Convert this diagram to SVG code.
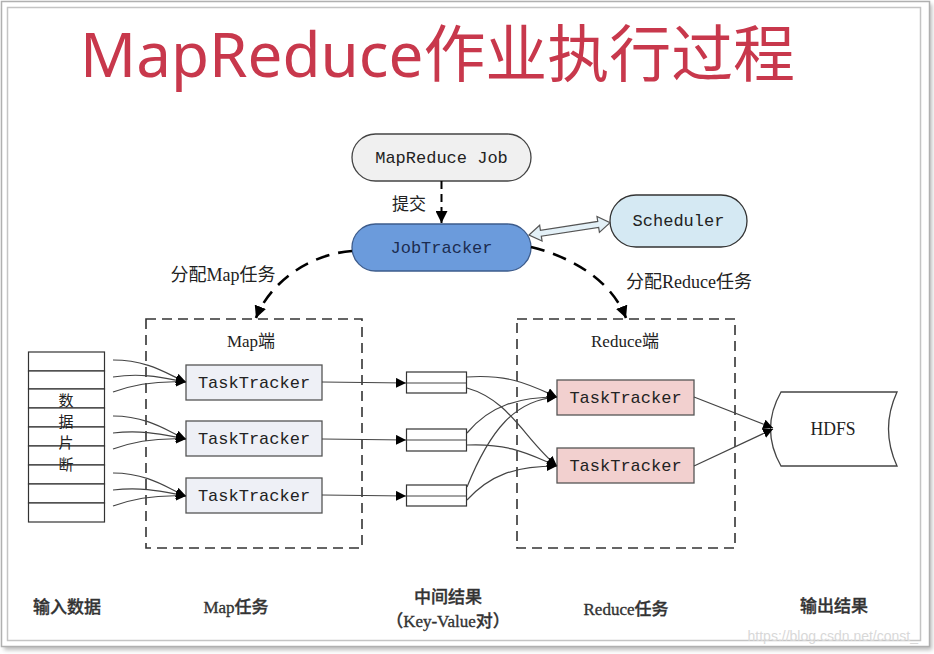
<svg xmlns="http://www.w3.org/2000/svg" width="934" height="654" viewBox="0 0 934 654">
<defs>
<marker id="ah" viewBox="0 0 10 10" refX="10" refY="5" markerWidth="10" markerHeight="10" markerUnits="userSpaceOnUse" orient="auto">
<path d="M0,0 L10,5 L0,10 Z" fill="#000"/>
</marker>
<marker id="ahb" viewBox="0 0 10 10" refX="10" refY="5" markerWidth="12" markerHeight="12" markerUnits="userSpaceOnUse" orient="auto">
<path d="M0,0 L10,5 L0,10 Z" fill="#000"/>
</marker>
<filter id="sh" x="-5%" y="-5%" width="110%" height="110%">
<feGaussianBlur stdDeviation="2"/>
</filter>
</defs>
<style>
.mono{font-family:"Liberation Mono","Noto Sans CJK SC",monospace;font-size:17px;fill:#222;text-anchor:middle}
.ser{font-family:"Liberation Serif","Noto Sans CJK SC",serif;font-size:17px;fill:#222;text-anchor:middle}
.lab{font-family:"Liberation Serif","Noto Sans CJK SC",serif;font-size:17px;fill:#333;text-anchor:middle;font-weight:500;stroke:#333;stroke-width:0.35}
.tt{fill:#eef0f6;stroke:#555;stroke-width:1.3}
.rt{fill:#f2d0cf;stroke:#555;stroke-width:1.3}
.ln{fill:none;stroke:#444;stroke-width:1.2}
.dbox{fill:none;stroke:#333;stroke-width:1.6;stroke-dasharray:10 6}
.dash{fill:none;stroke:#000;stroke-width:2.6;stroke-dasharray:14 9}
.cell{fill:#fff;stroke:#333;stroke-width:1.2}
</style>
<rect width="934" height="654" fill="#fff"/>
<rect x="4" y="4" width="928" height="646" fill="#bbb" filter="url(#sh)"/>
<rect x="1.5" y="1.5" width="928" height="645" fill="#fff" stroke="#b0b0b0" stroke-width="1.5"/>
<rect x="7.5" y="7.5" width="913" height="633" fill="#fff" stroke="#c4c4c4" stroke-width="1.5"/>

<text x="80" y="77" font-family="'Noto Sans','Noto Sans CJK SC',sans-serif" font-size="62" fill="#c8384c" textLength="715" lengthAdjust="spacingAndGlyphs">MapReduce作业执行过程</text>

<g id="job">
<rect x="352" y="134" width="179" height="47" rx="23.5" fill="#f0f0f0" stroke="#444" stroke-width="1.3"/>
<text class="mono" x="441.5" y="163">MapReduce Job</text>
</g>
<g id="jobtracker">
<rect x="352" y="224" width="179" height="47" rx="23.5" fill="#6b9bdc" stroke="#3d5c8c" stroke-width="1.3"/>
<text class="mono" x="441.5" y="253" style="fill:#1c2c50">JobTracker</text>
</g>
<g id="scheduler">
<rect x="610" y="195" width="137" height="52" rx="26" fill="#d5e9f3" stroke="#333" stroke-width="1.3"/>
<text class="mono" x="678.5" y="226">Scheduler</text>
</g>

<g id="input">
<rect class="cell" x="28.5" y="352" width="76" height="19"/>
<rect class="cell" x="28.5" y="371" width="76" height="18"/>
<rect class="cell" x="28.5" y="389" width="76" height="19"/>
<rect class="cell" x="28.5" y="408" width="76" height="19"/>
<rect class="cell" x="28.5" y="427" width="76" height="19"/>
<rect class="cell" x="28.5" y="446" width="76" height="19"/>
<rect class="cell" x="28.5" y="465" width="76" height="19"/>
<rect class="cell" x="28.5" y="484" width="76" height="19"/>
<rect class="cell" x="28.5" y="503" width="76" height="19"/>
<text class="ser" x="66" y="406" style="font-size:15px">数</text>
<text class="ser" x="66" y="427" style="font-size:15px">据</text>
<text class="ser" x="66" y="448" style="font-size:15px">片</text>
<text class="ser" x="66" y="470" style="font-size:15px">断</text>
</g>

<g id="mapside">
<rect class="dbox" x="146" y="319" width="216" height="229"/>
<text class="ser" x="251" y="347">Map端</text>
</g>
<g id="reduceside">
<rect class="dbox" x="517" y="319" width="218" height="229"/>
<text class="ser" x="625" y="347">Reduce端</text>
</g>

<g id="map1"><rect class="tt" x="186" y="365" width="136" height="35"/><text class="mono" x="254" y="388">TaskTracker</text></g>
<g id="map2"><rect class="tt" x="186" y="421" width="136" height="35"/><text class="mono" x="254" y="444">TaskTracker</text></g>
<g id="map3"><rect class="tt" x="186" y="478" width="136" height="35"/><text class="mono" x="254" y="501">TaskTracker</text></g>

<g id="mid1"><rect class="cell" x="406.5" y="372" width="60" height="21"/><line class="ln" x1="406.5" y1="383" x2="466.5" y2="383"/></g>
<g id="mid2"><rect class="cell" x="406.5" y="429" width="60" height="22"/><line class="ln" x1="406.5" y1="440" x2="466.5" y2="440"/></g>
<g id="mid3"><rect class="cell" x="406.5" y="485" width="60" height="21"/><line class="ln" x1="406.5" y1="496" x2="466.5" y2="496"/></g>

<g id="red1"><rect class="rt" x="557" y="380" width="137" height="35"/><text class="mono" x="625.5" y="403">TaskTracker</text></g>
<g id="red2"><rect class="rt" x="557" y="448" width="137" height="35"/><text class="mono" x="625.5" y="471">TaskTracker</text></g>

<g id="hdfs">
<path d="M781,392 L897,392 Q880,429 897,466 L781,466 Q760,429 781,392 Z" fill="#fff" stroke="#444" stroke-width="1.3"/>
<text x="833" y="435" font-family="'Liberation Serif',serif" font-size="19" fill="#222" text-anchor="middle" textLength="45" lengthAdjust="spacingAndGlyphs">HDFS</text>
</g>

<g id="connectors">
<path d="M441.5,181 L441.5,223" fill="none" stroke="#000" stroke-width="2" stroke-dasharray="8 5" marker-end="url(#ahb)"/>
<g transform="translate(529,235) rotate(-8.7)">
<polygon points="0,0 12,-8 12,-3 70,-3 70,-8 82,0 70,8 70,3 12,3 12,8" fill="#e3f0f7" stroke="#555" stroke-width="1.2"/>
</g>
<path class="dash" d="M352,251 C310,254 270,282 256,318" marker-end="url(#ahb)"/>
<path class="dash" d="M531,247 C575,258 612,282 626,318" marker-end="url(#ahb)"/>

<path class="ln" d="M113,360 C150,360 170,376 186,382" marker-end="url(#ah)"/>
<path class="ln" d="M113,377 C145,372 168,379 186,382" marker-end="url(#ah)"/>
<path class="ln" d="M113,392 C140,382 165,381 186,382" marker-end="url(#ah)"/>
<path class="ln" d="M113,416 C150,416 170,433 186,439" marker-end="url(#ah)"/>
<path class="ln" d="M113,433 C145,429 168,436 186,439" marker-end="url(#ah)"/>
<path class="ln" d="M113,449 C140,439 165,438 186,439" marker-end="url(#ah)"/>
<path class="ln" d="M113,473 C150,473 170,490 186,496" marker-end="url(#ah)"/>
<path class="ln" d="M113,490 C145,486 168,493 186,496" marker-end="url(#ah)"/>
<path class="ln" d="M113,506 C140,496 165,495 186,496" marker-end="url(#ah)"/>

<path class="ln" d="M322,382 L406,383" marker-end="url(#ah)"/>
<path class="ln" d="M322,439 L406,440" marker-end="url(#ah)"/>
<path class="ln" d="M322,495 L406,496" marker-end="url(#ah)"/>

<path class="ln" d="M467,377 C510,374 530,385 557,397" marker-end="url(#ah)"/>
<path class="ln" d="M467,388 C510,400 525,440 557,466" marker-end="url(#ah)"/>
<path class="ln" d="M467,433 C490,405 520,397 557,397" marker-end="url(#ah)"/>
<path class="ln" d="M467,445 C510,443 530,455 557,466" marker-end="url(#ah)"/>
<path class="ln" d="M467,487 C490,430 515,400 557,397" marker-end="url(#ah)"/>
<path class="ln" d="M467,500 C490,475 515,466 557,466" marker-end="url(#ah)"/>

<path class="ln" d="M694,397 L773,428" marker-end="url(#ah)"/>
<path class="ln" d="M694,466 L773,429" marker-end="url(#ah)"/>
</g>

<text class="ser" x="409" y="210">提交</text>
<text class="ser" x="223" y="281" style="font-size:18px">分配Map任务</text>
<text class="ser" x="689" y="288" style="font-size:18px">分配Reduce任务</text>

<text class="lab" x="67" y="613">输入数据</text>
<text class="lab" x="236" y="613">Map任务</text>
<text class="lab" x="448" y="603">中间结果</text>
<text class="lab" x="448" y="627">（Key-Value对）</text>
<text class="lab" x="626" y="615">Reduce任务</text>
<text class="lab" x="834" y="612">输出结果</text>
<text x="918" y="641" font-family="'Liberation Sans',sans-serif" font-size="14" fill="#d8d8d8" text-anchor="end">https://blog.csdn.net/const_</text>
</svg>
